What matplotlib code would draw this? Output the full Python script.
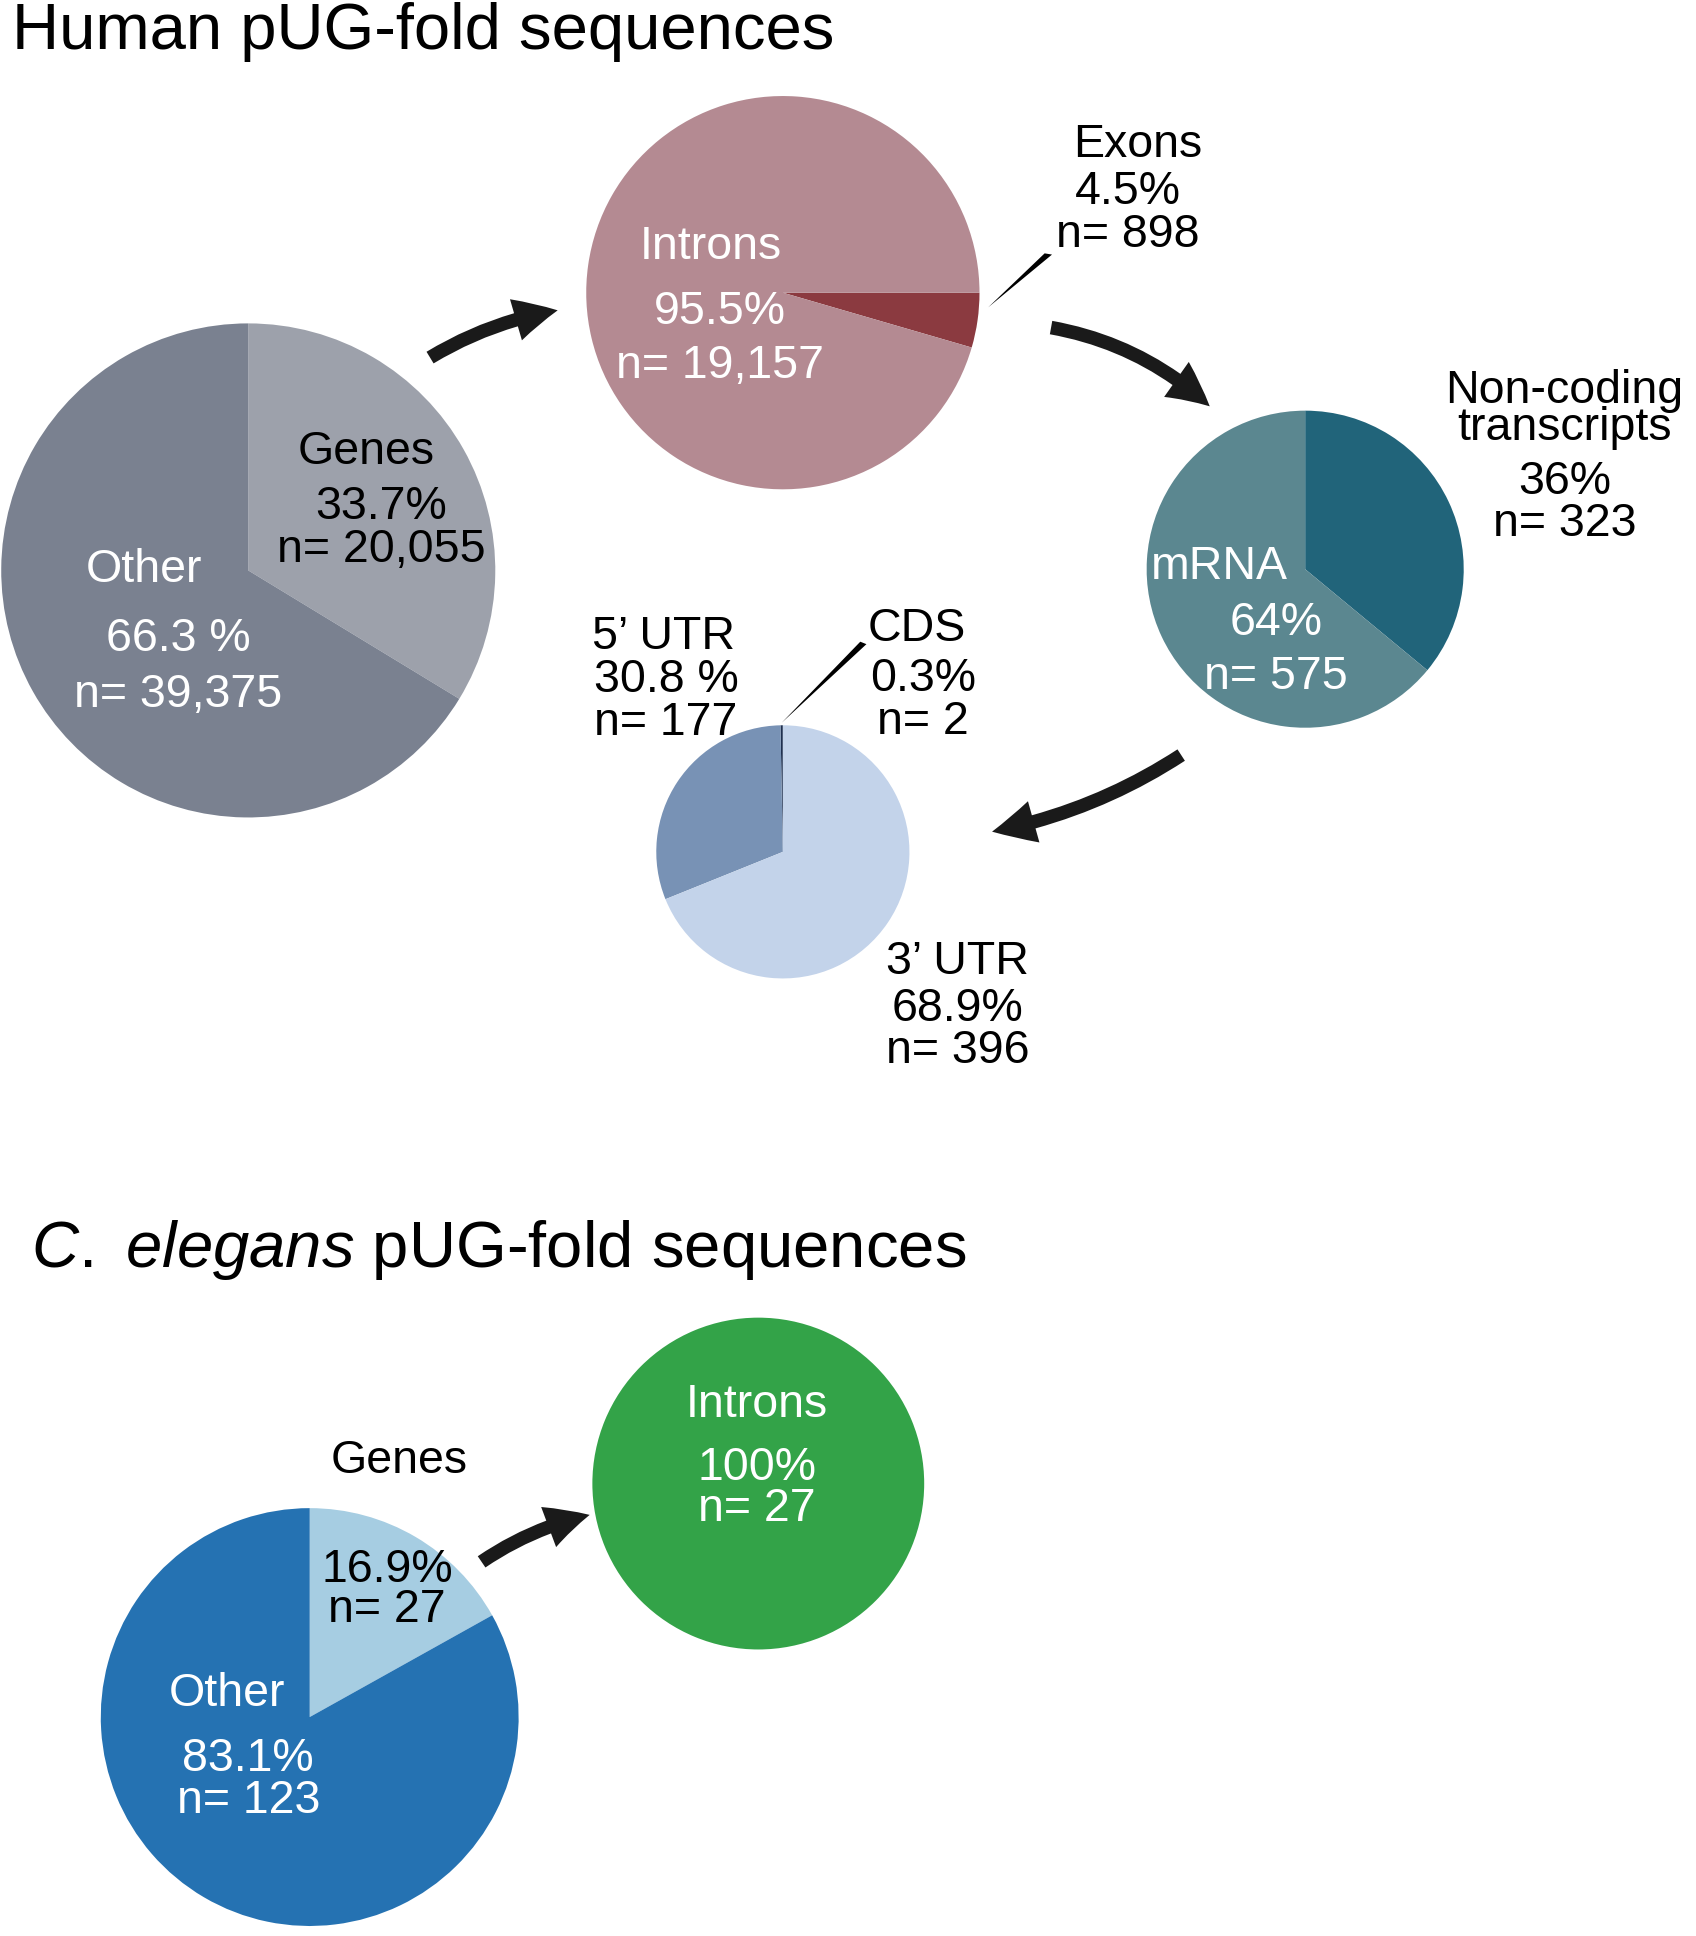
import matplotlib.pyplot as plt
from matplotlib.patches import FancyArrowPatch

plt.rcParams['font.family'] = ['Liberation Sans', 'DejaVu Sans']
plt.rcParams['mathtext.fontset'] = 'custom'
plt.rcParams['mathtext.rm'] = 'Liberation Sans'
plt.rcParams['mathtext.it'] = 'Liberation Sans:italic'

W, H = 1380, 1575

# data
human_genes = [33.7, 66.3]
human_introns = [4.5, 95.5]
human_mrna = [36, 64]
human_utr = [0.3, 30.8, 68.9]
ce_genes = [16.9, 83.1]
ce_introns = [100]

fig = plt.figure(figsize=(16.96, 19.36), dpi=100)
ax = fig.add_axes([0, 0, 1, 1])


def Y(y):
    return H - y


def pie(vals, cx, cy, r, colors, start=90, cc=False):
    ax.pie(vals, center=(cx, Y(cy)), radius=r, colors=colors, startangle=start,
           counterclock=cc, wedgeprops=dict(linewidth=0), frame=True)


pie(human_genes, 202, 464, 201, ['#9da1ab', '#7a8190'])
pie(human_introns, 637, 238, 160, ['#8b3a40', '#b48a92'], start=0)
pie(human_mrna, 1062, 463, 129, ['#21647a', '#5b8790'])
pie(human_utr, 637, 693, 103, ['#1f3050', '#7892b5', '#c3d3ea'], cc=True)
pie(ce_genes, 252, 1397, 170, ['#a6cde2', '#2572b2'])
pie(ce_introns, 617, 1207, 135, ['#33a348'])
ax.set_xlim(0, W)
ax.set_ylim(0, H)
ax.set_aspect('equal')
ax.axis('off')


def txt(x, y, s, c='black', size=33.5, **kw):
    ax.text(x, Y(y), s, color=c, fontsize=size, ha='center', va='center',
            linespacing=0.9, **kw)


ax.text(10, Y(26), 'Human pUG-fold sequences', fontsize=47, va='center')
ax.text(25, Y(1017), r'$\mathit{C.}$ $\mathit{elegans}$ pUG-fold sequences',
        fontsize=47, va='center')

txt(298, 368, 'Genes')
txt(310, 412, '33.7%')
txt(310, 447, 'n= 20,055')
txt(117, 464, 'Other', 'white')
txt(145, 520, '66.3 %', 'white')
txt(145, 565, 'n= 39,375', 'white')

txt(578, 201, 'Introns', 'white')
txt(586, 254, '95.5%', 'white')
txt(586, 298, 'n= 19,157', 'white')
txt(926, 118, 'Exons')
txt(918, 156, '4.5%')
txt(918, 191, 'n= 898')

ax.text(1273, Y(333), 'Non-coding\ntranscripts', fontsize=33.5, ha='center',
        va='center', linespacing=0.8)
txt(1273, 392, '36%')
txt(1273, 426, 'n= 323')
txt(992, 461, 'mRNA', 'white')
txt(1038, 507, '64%', 'white')
txt(1038, 551, 'n= 575', 'white')

txt(540, 518, '5\u2019 UTR')
txt(542, 553, '30.8 %')
txt(542, 588, 'n= 177')
txt(746, 512, 'CDS')
txt(751, 552, '0.3%')
txt(751, 587, 'n= 2')
txt(779, 783, '3\u2019 UTR')
txt(779, 821, '68.9%')
txt(779, 855, 'n= 396')

txt(325, 1189, 'Genes')
txt(315, 1277, '16.9%')
txt(315, 1310, 'n= 27')
txt(185, 1378, 'Other', 'white')
txt(202, 1431, '83.1%', 'white')
txt(202, 1465, 'n= 123', 'white')
txt(616, 1143, 'Introns', 'white')
txt(616, 1194, '100%', 'white')
txt(616, 1228, 'n= 27', 'white')

# callout wedges
ax.fill([804, 856, 850], [Y(250), Y(207), Y(206)], color='black', lw=0)
ax.fill([636, 705, 700], [Y(588), Y(524), Y(522)], color='black', lw=0)


def arrow(p0, p1, rad):
    a = FancyArrowPatch((p0[0], Y(p0[1])), (p1[0], Y(p1[1])),
                        connectionstyle=f'arc3,rad={rad}',
                        arrowstyle='simple,head_width=2.2,head_length=2.2,tail_width=0.7',
                        mutation_scale=14, color='#1a1a1a', lw=0)
    ax.add_patch(a)


arrow((348, 292), (456, 252), -0.1)
arrow((853, 266), (986, 332), -0.15)
arrow((963, 613), (805, 677), -0.1)
arrow((390, 1272), (482, 1232), -0.1)

fig.savefig('out.png', dpi=100)
